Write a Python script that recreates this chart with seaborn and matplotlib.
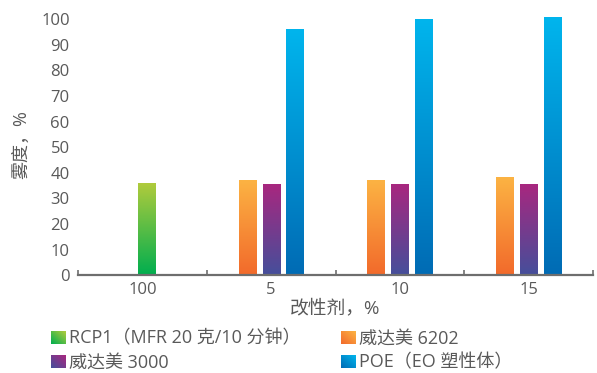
import numpy as np
import pandas as pd
import matplotlib
matplotlib.use('Agg')
import matplotlib.pyplot as plt
import seaborn as sns
from matplotlib.colors import LinearSegmentedColormap
from matplotlib.patches import Patch
from matplotlib.legend_handler import HandlerBase
from matplotlib.image import BboxImage
from matplotlib.transforms import Bbox, TransformedBbox

# data
groups = ['100', '5', '10', '15']
series_names = ['RCP1（MFR 20 克/10 分钟）', '威达美 6202', '威达美 3000', 'POE（EO 塑性体）']
rcp1_vals = [35.7, None, None, None]
v6202_vals = [None, 36.7, 36.7, 37.9]
v3000_vals = [None, 35.2, 35.5, 35.5]
poe_vals = [None, 95.7, 99.6, 100.4]

# gradient colours (bottom, top) for each series
grad_colors = [('#00ae4f', '#b0cb3c'),
               ('#f26a2b', '#fcb343'),
               ('#454f9b', '#a8277f'),
               ('#006bb4', '#00b5ed')]
# bar offsets inside a group, in group units
offsets = [0.035, -0.186, 0.0, 0.186]
BAR_W = 0.134

rows = []
for name, vals in zip(series_names, [rcp1_vals, v6202_vals, v3000_vals, poe_vals]):
    for i, (g, v) in enumerate(zip(groups, vals)):
        if v is not None:
            rows.append({'group': g, 'idx': i, 'series': name, 'value': v})
df = pd.DataFrame(rows)

sns.set_theme(style='white')
plt.rcParams['font.family'] = ['Open Sans', 'Noto Sans CJK SC', 'DejaVu Sans']
text_col = '#595959'

fig = plt.figure(figsize=(5.97, 3.73), dpi=100)
ax = fig.add_axes([0.1307, 0.262, 0.8626, 0.7008])

cmaps = [LinearSegmentedColormap.from_list(f'g{k}', c) for k, c in enumerate(grad_colors)]
grad = np.linspace(0, 1, 256).reshape(-1, 1)

for k, name in enumerate(series_names):
    sub = df[df['series'] == name]
    n_before = len(ax.patches)
    sns.barplot(x=sub['idx'] + offsets[k], y=sub['value'], native_scale=True,
                width=BAR_W, color=grad_colors[k][1], errorbar=None, ax=ax)
    for p in ax.patches[n_before:]:
        x0, y0 = p.get_x(), p.get_y()
        w, h = p.get_width(), p.get_height()
        ax.imshow(grad, extent=[x0, x0 + w, y0, y0 + h], origin='lower',
                  cmap=cmaps[k], aspect='auto', zorder=3, interpolation='bilinear')
        p.set_alpha(0)

ax.set_xlim(-0.5, 3.5)
ax.set_ylim(0, 102)
ax.set_xticks(range(len(groups)))
ax.set_xticklabels(groups)
ax.set_xticks(np.arange(-0.5, 3.6, 1), minor=True)
ax.set_yticks(range(0, 101, 10))
ax.tick_params(axis='x', which='major', length=0, pad=5, labelsize=12, labelcolor=text_col)
ax.tick_params(axis='x', which='minor', length=3.5, width=1.2, direction='in', color='#6e6e6e', bottom=True)
ax.tick_params(axis='y', length=0, pad=6, labelsize=12, labelcolor=text_col)
for s in ['top', 'right', 'left']:
    ax.spines[s].set_visible(False)
ax.spines['bottom'].set_color('#6e6e6e')
ax.spines['bottom'].set_linewidth(1.6)
ax.spines['bottom'].set_zorder(5)

ax.set_xlabel('改性剂，%', fontsize=13.5, color=text_col, labelpad=1)
ax.set_ylabel('雾度，%', fontsize=13, color=text_col, labelpad=8)


class GradientHandler(HandlerBase):
    def __init__(self, cmap):
        super().__init__()
        self.cmap = cmap

    def create_artists(self, legend, orig_handle, xdescent, ydescent, width, height, fontsize, trans):
        bb = TransformedBbox(Bbox.from_bounds(-xdescent, -ydescent, width, height), trans)
        img = BboxImage(bb, cmap=self.cmap, interpolation='bilinear', origin='lower')
        xx, yy = np.meshgrid(np.linspace(0, 1, 32), np.linspace(0, 1, 32))
        img.set_data((xx + yy) / 2)
        return [img]


handles = [Patch(label=n) for n in series_names]
hmap = {h: GradientHandler(cmaps[k]) for k, h in enumerate(handles)}
# legend fills column-wise, so reorder to read row-wise like the reference
order = [0, 2, 1, 3]
fig.legend(handles=[handles[i] for i in order], handler_map=hmap, ncol=2, loc='lower left',
           bbox_to_anchor=(0.065, -0.03), frameon=False, fontsize=13, borderpad=0.2,
           labelcolor=text_col, handlelength=0.78, handleheight=0.72,
           handletextpad=0.22, columnspacing=2.2, labelspacing=0.33)

fig.savefig('out.png', dpi=100)
